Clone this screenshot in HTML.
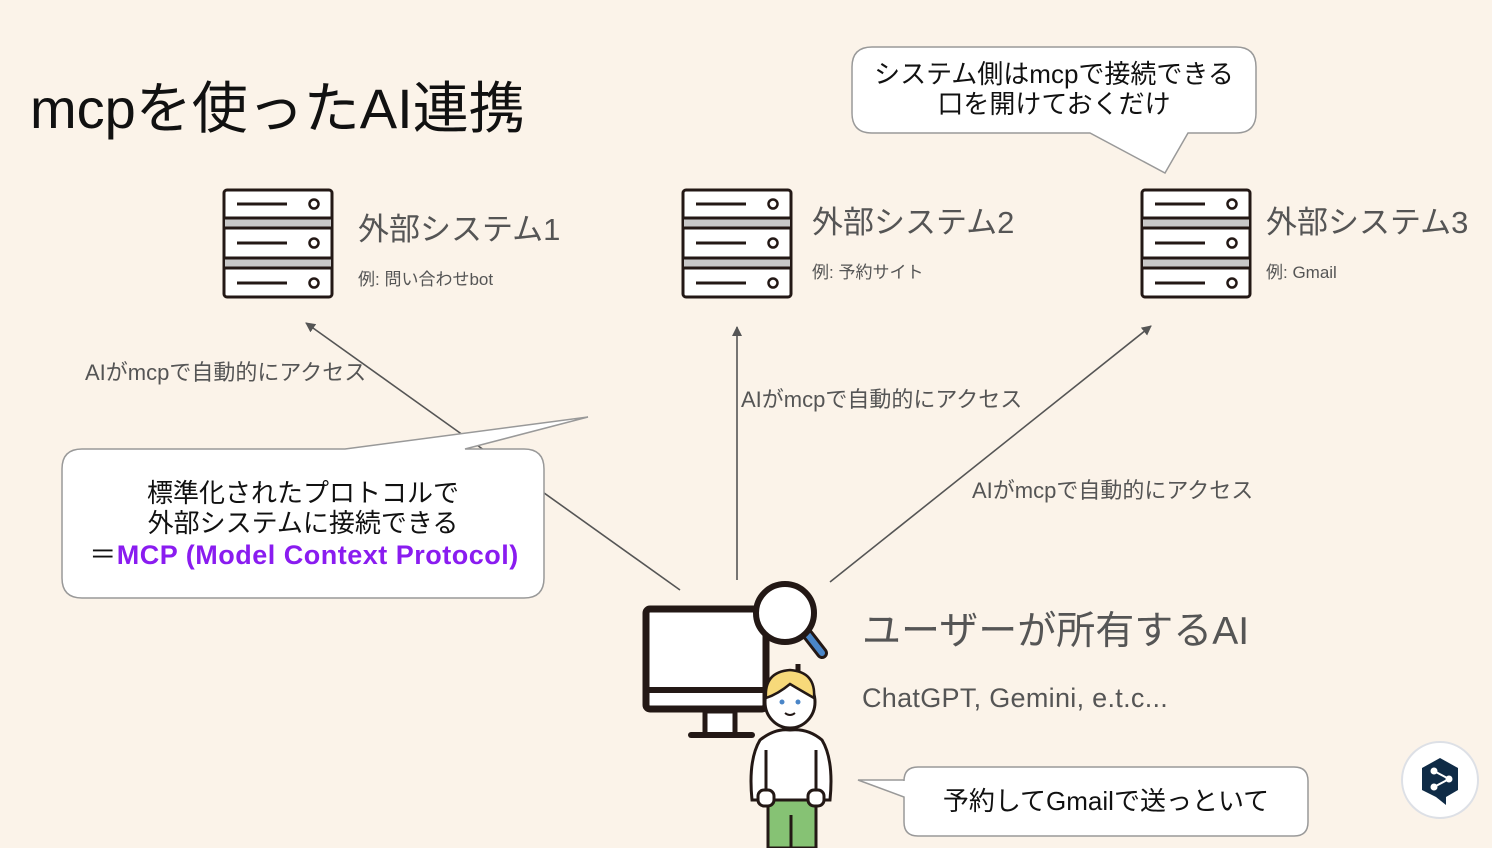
<!DOCTYPE html>
<html><head><meta charset="utf-8"><style>
body{margin:0;width:1492px;height:848px;overflow:hidden;background:#fbf3e9;font-family:"Liberation Sans","Noto Sans CJK JP",sans-serif;}
svg{position:absolute;left:0;top:0}
text{font-family:"Liberation Sans","Noto Sans CJK JP",sans-serif}
</style></head><body>
<svg width="1492" height="848" viewBox="0 0 1492 848">
<defs>
<marker id="ah" markerWidth="10" markerHeight="10" refX="9" refY="5" orient="auto" markerUnits="userSpaceOnUse" viewBox="0 0 10 10"><path d="M0,0 L10,5 L0,10 z" fill="#555"/></marker>
<g id="srv">
<rect x="1" y="1" width="108" height="107" rx="3" fill="#fff" stroke="#231815" stroke-width="3"/>
<rect x="2" y="29" width="106" height="10" fill="#c8c8c8"/>
<rect x="2" y="69" width="106" height="10" fill="#c8c8c8"/>
<line x1="1" y1="29" x2="109" y2="29" stroke="#231815" stroke-width="3"/>
<line x1="1" y1="39" x2="109" y2="39" stroke="#231815" stroke-width="3"/>
<line x1="1" y1="69" x2="109" y2="69" stroke="#231815" stroke-width="3"/>
<line x1="1" y1="79" x2="109" y2="79" stroke="#231815" stroke-width="3"/>
<g stroke="#231815" stroke-width="3"><line x1="14" y1="15" x2="64" y2="15"/><line x1="14" y1="54" x2="64" y2="54"/><line x1="14" y1="94" x2="64" y2="94"/></g>
<g fill="#fff" stroke="#231815" stroke-width="2.5"><circle cx="91" cy="15" r="4.5"/><circle cx="91" cy="54" r="4.5"/><circle cx="91" cy="94" r="4.5"/></g>
</g>
</defs>
<text x="30" y="128" font-size="56" fill="#111">mcpを使ったAI連携</text>

<use href="#srv" x="223" y="189"/>
<use href="#srv" x="682" y="189"/>
<use href="#srv" x="1141" y="189"/>
<text x="358" y="240" font-size="31" fill="#555">外部システム1</text>
<text x="358" y="285" font-size="17" fill="#555">例: 問い合わせbot</text>
<text x="812" y="233" font-size="31" fill="#555">外部システム2</text>
<text x="812" y="278" font-size="17" fill="#555">例: 予約サイト</text>
<text x="1266" y="233" font-size="31" fill="#555">外部システム3</text>
<text x="1266" y="278" font-size="17" fill="#555">例: Gmail</text>

<g stroke="#555" stroke-width="1.6" fill="none">
<line x1="680" y1="590" x2="306" y2="323" marker-end="url(#ah)"/>
<line x1="737" y1="580" x2="737" y2="327" marker-end="url(#ah)"/>
<line x1="830" y1="582" x2="1151" y2="326" marker-end="url(#ah)"/>
</g>
<text x="85" y="380" font-size="22" fill="#555">AIがmcpで自動的にアクセス</text>
<text x="741" y="407" font-size="22" fill="#555">AIがmcpで自動的にアクセス</text>
<text x="972" y="498" font-size="22" fill="#555">AIがmcpで自動的にアクセス</text>

<path d="M82,449 L345,449 L588,417 L465,449 L524,449 Q544,449 544,469 L544,578 Q544,598 524,598 L82,598 Q62,598 62,578 L62,469 Q62,449 82,449 Z" fill="#fff" stroke="#999" stroke-width="1.5"/>
<text x="303" y="502" font-size="26" fill="#111" text-anchor="middle">標準化されたプロトコルで</text>
<text x="303" y="532" font-size="26" fill="#111" text-anchor="middle">外部システムに接続できる</text>
<text x="304" y="564" font-size="27" fill="#111" text-anchor="middle" letter-spacing="0.5">＝<tspan fill="#8a1cf0" font-weight="bold">MCP (Model Context Protocol)</tspan></text>

<path d="M872,47 L1236,47 Q1256,47 1256,67 L1256,113 Q1256,133 1236,133 L1188,133 L1165,173 L1090,133 L872,133 Q852,133 852,113 L852,67 Q852,47 872,47 Z" fill="#fff" stroke="#999" stroke-width="1.5"/>
<text x="1054" y="83" font-size="26" fill="#111" text-anchor="middle">システム側はmcpで接続できる</text>
<text x="1054" y="113" font-size="26" fill="#111" text-anchor="middle">口を開けておくだけ</text>

<path d="M918,767 L1294,767 Q1308,767 1308,781 L1308,822 Q1308,836 1294,836 L918,836 Q904,836 904,822 L904,797 L858,780 L904,780 L904,781 Q904,767 918,767 Z" fill="#fff" stroke="#999" stroke-width="1.5"/>
<text x="1106" y="810" font-size="26" fill="#111" text-anchor="middle">予約してGmailで送っといて</text>

<text x="862" y="644" font-size="39" fill="#555">ユーザーが所有するAI</text>
<text x="862" y="707" font-size="27" fill="#555" letter-spacing="0.3">ChatGPT, Gemini, e.t.c...</text>

<rect x="646" y="609" width="120" height="100" rx="4" fill="#fff" stroke="#231815" stroke-width="7"/>
<line x1="646" y1="690" x2="766" y2="690" stroke="#231815" stroke-width="6"/>
<rect x="705" y="711" width="30" height="24" fill="#fff" stroke="#231815" stroke-width="5"/>
<line x1="691" y1="735" x2="752" y2="735" stroke="#231815" stroke-width="6" stroke-linecap="round"/>
<line x1="808" y1="635" x2="822" y2="653" stroke="#231815" stroke-width="12" stroke-linecap="round"/>
<line x1="808" y1="635" x2="822" y2="653" stroke="#4a86c8" stroke-width="6" stroke-linecap="round"/>
<circle cx="785" cy="613" r="29" fill="#fff" stroke="#231815" stroke-width="6"/>
<line x1="798" y1="664" x2="798" y2="672" stroke="#231815" stroke-width="5"/>
<rect x="768" y="795" width="48" height="53" fill="#86c274" stroke="#231815" stroke-width="3"/>
<line x1="791" y1="815" x2="791" y2="848" stroke="#231815" stroke-width="3"/>
<path d="M752,800 Q748,760 760,740 Q775,728 790,730 Q808,728 822,740 Q834,760 830,800 L752,800 Z" fill="#fff" stroke="#231815" stroke-width="3"/>
<line x1="766" y1="750" x2="766" y2="795" stroke="#231815" stroke-width="3"/>
<line x1="816" y1="750" x2="816" y2="795" stroke="#231815" stroke-width="3"/>
<rect x="758" y="790" width="16" height="16" rx="6" fill="#fff" stroke="#231815" stroke-width="3"/>
<rect x="808" y="790" width="16" height="16" rx="6" fill="#fff" stroke="#231815" stroke-width="3"/>
<ellipse cx="790" cy="702" rx="25" ry="26" fill="#fff" stroke="#231815" stroke-width="3"/>
<path d="M766,698 Q764,672 790,670 Q816,672 814,698 Q800,690 790,684 Q778,694 766,698 Z" fill="#f7d97a" stroke="#231815" stroke-width="2.5"/>
<circle cx="782" cy="702" r="2.5" fill="#4a86c8"/><circle cx="798" cy="702" r="2.5" fill="#4a86c8"/>
<path d="M785,713 Q790,717 795,713" fill="none" stroke="#231815" stroke-width="2"/>

<circle cx="1440" cy="780" r="38" fill="#fff" stroke="#dde0e6" stroke-width="2"/>
<path d="M1440,758 L1458,768 L1458,790 L1446,797 L1446,805 L1436,797 L1422,790 L1422,768 Z" fill="#0f2b46"/>
<g stroke="#fff" stroke-width="2" fill="#fff"><line x1="1434" y1="771" x2="1449" y2="779"/><line x1="1449" y1="779" x2="1434" y2="787"/><circle cx="1434" cy="771" r="2.5"/><circle cx="1449" cy="779" r="2.5"/><circle cx="1434" cy="787" r="2.5"/></g>
</svg>
</body></html>
